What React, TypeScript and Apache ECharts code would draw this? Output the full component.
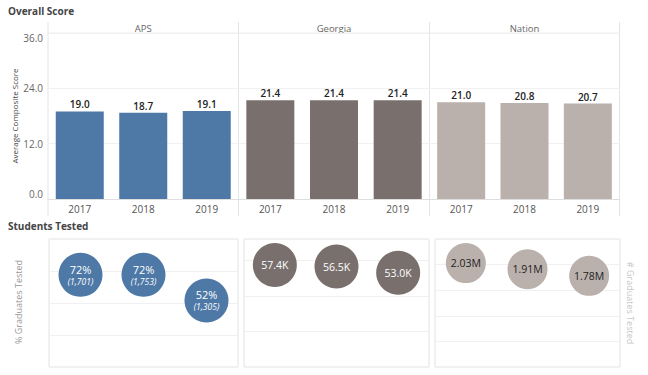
import React, { useEffect, useRef } from "react";
import * as echarts from "echarts";

const years = ["2017", "2018", "2019"];
const panels = ["APS", "Georgia", "Nation"];
const apsScore = [19.0, 18.7, 19.1];
const gaScore = [21.4, 21.4, 21.4];
const natScore = [21.0, 20.8, 20.7];
const apsPct = [72, 72, 52];
const apsCount = [1701, 1753, 1305];
const gaTested = [57400, 56500, 53000];
const natTested = [2030000, 1910000, 1780000];
const scoreTicks = [0, 12, 24, 36];

const COLORS = ["#4e79a7", "#79706e", "#bab0ac"];
const FONT = "Open Sans, Noto Sans, sans-serif";

export default function App() {
  const ref = useRef<HTMLDivElement>(null);
  useEffect(() => {
    if (!ref.current) return;
    const chart = echarts.init(ref.current, null, { renderer: "svg" });
    const topGrids = [
      { left: 48, top: 33, width: 190.5, height: 166 },
      { left: 238.5, top: 33, width: 191, height: 166 },
      { left: 429.5, top: 33, width: 190, height: 166 },
    ];
    const botGrids = [
      { left: 49, top: 239, width: 189, height: 128 },
      { left: 244, top: 239, width: 185, height: 128 },
      { left: 435, top: 239, width: 185, height: 128 },
    ];
    const grids = [
      ...topGrids.map((g) => ({ ...g, containLabel: false })),
      ...botGrids.map((g) => ({
        ...g,
        containLabel: false,
        show: true,
        borderColor: "#e2e2e2",
        borderWidth: 1,
      })),
    ];
    const xAxes: any[] = [];
    const yAxes: any[] = [];
    for (let i = 0; i < 3; i++) {
      xAxes.push({
        type: "category",
        gridIndex: i,
        data: years,
        axisLine: { show: true, lineStyle: { color: "#dedede" } },
        axisTick: { show: false },
        axisLabel: { color: "#555", fontSize: 10, fontFamily: FONT, margin: 5 },
      });
      yAxes.push({
        type: "value",
        gridIndex: i,
        min: scoreTicks[0],
        max: scoreTicks[scoreTicks.length - 1],
        interval: 12,
        axisLine: { show: false },
        axisTick: { show: false },
        axisLabel: {
          show: i === 0,
          color: "#666",
          fontSize: 10,
          fontFamily: FONT,
          margin: 5,
          verticalAlignMinLabel: "bottom",
          verticalAlignMaxLabel: "top",
          formatter: (v: number) => v.toFixed(1),
        },
        splitLine: { show: true, lineStyle: { color: "#f1f1f1" } },
      });
    }
    const botRanges = [
      { max: 100, interval: 25 },
      { max: 72000, interval: 20000 },
      { max: 2500000, interval: 500000 },
    ];
    for (let i = 0; i < 3; i++) {
      xAxes.push({
        type: "category",
        gridIndex: 3 + i,
        data: years,
        show: false,
      });
      yAxes.push({
        type: "value",
        gridIndex: 3 + i,
        min: 0,
        max: botRanges[i].max,
        interval: botRanges[i].interval,
        axisLine: { show: false },
        axisTick: { show: false },
        axisLabel: { show: false },
        splitLine: { show: true, lineStyle: { color: "#f0f0f0" } },
      });
    }
    const scores = [apsScore, gaScore, natScore];
    const series: any[] = scores.map((d, i) => ({
      type: "bar",
      xAxisIndex: i,
      yAxisIndex: i,
      data: d,
      barWidth: 48,
      itemStyle: { color: COLORS[i] },
      label: {
        show: true,
        position: "top",
        distance: 2,
        color: "#222",
        fontWeight: 600,
        fontSize: 10,
        fontFamily: FONT,
        formatter: (p: any) => Number(p.value).toFixed(1),
      },
    }));
    series.push({
      type: "scatter",
      xAxisIndex: 3,
      yAxisIndex: 3,
      data: apsPct,
      symbolSize: 44,
      itemStyle: { color: COLORS[0], opacity: 1 },
      label: {
        show: true,
        position: "inside",
        formatter: (p: any) =>
          `{a|${p.value}%}\n{b|(${apsCount[p.dataIndex].toLocaleString("en-US")})}`,
        rich: {
          a: { color: "#fff", fontSize: 11, fontFamily: FONT, lineHeight: 13 },
          b: { color: "#fff", fontSize: 8.5, fontStyle: "italic", fontFamily: FONT, lineHeight: 11 },
        },
      },
    });
    series.push({
      type: "scatter",
      xAxisIndex: 4,
      yAxisIndex: 4,
      data: gaTested,
      symbolSize: 44,
      itemStyle: { color: COLORS[1], opacity: 1 },
      label: {
        show: true,
        position: "inside",
        color: "#fff",
        fontSize: 10.5,
        fontFamily: FONT,
        formatter: (p: any) => (p.value / 1000).toFixed(1) + "K",
      },
    });
    series.push({
      type: "scatter",
      xAxisIndex: 5,
      yAxisIndex: 5,
      data: natTested,
      symbolSize: 40,
      itemStyle: { color: COLORS[2], opacity: 1 },
      label: {
        show: true,
        position: "inside",
        color: "#222",
        fontSize: 10.5,
        fontFamily: FONT,
        formatter: (p: any) => (p.value / 1e6).toFixed(2) + "M",
      },
    });

    const sepColor = "#e4e4e4";
    const graphic: any[] = [
      { type: "text", left: 8, top: 6, style: { text: "Overall Score", fontSize: 10, fontWeight: "bold", fill: "#444", fontFamily: FONT } },
      { type: "text", left: 8, top: 221, style: { text: "Students Tested", fontSize: 10, fontWeight: "bold", fill: "#444", fontFamily: FONT } },
      { type: "line", shape: { x1: 48, y1: 33, x2: 619.5, y2: 33 }, style: { stroke: "#eeeeee", lineWidth: 1 } },
      ...[48, 238.5, 429.5, 619.5].map((x) => ({
        type: "line",
        shape: { x1: x, y1: 22, x2: x, y2: 216 },
        style: { stroke: sepColor, lineWidth: 1 },
      })),
      ...panels.map((t, i) => ({
        type: "text",
        x: topGrids[i].left + topGrids[i].width / 2,
        y: 28,
        style: { text: t, fontSize: 9.5, fill: "#666", fontFamily: FONT, align: "center", verticalAlign: "middle" },
      })),
      {
        type: "text",
        x: 14,
        y: 116,
        rotation: Math.PI / 2,
        style: { text: "Average Composite Score", fontSize: 8, fill: "#444", fontFamily: FONT, align: "center", verticalAlign: "middle" },
      },
      {
        type: "text",
        x: 18,
        y: 302,
        rotation: Math.PI / 2,
        style: { text: "% Graduates Tested", fontSize: 9, fill: "#999", fontFamily: FONT, align: "center", verticalAlign: "middle" },
      },
      {
        type: "text",
        x: 630,
        y: 303,
        rotation: -Math.PI / 2,
        style: { text: "# Graduates Tested", fontSize: 9, fill: "#c8c8c8", fontFamily: FONT, align: "center", verticalAlign: "middle" },
      },
    ];

    chart.setOption({
      animation: false,
      backgroundColor: "#ffffff",
      grid: grids,
      xAxis: xAxes,
      yAxis: yAxes,
      series,
      graphic,
    });
    return () => chart.dispose();
  }, []);
  return (
    <div
      ref={ref}
      style={{ position: "fixed", left: 0, top: 0, width: 648, height: 375 }}
    />
  );
}
